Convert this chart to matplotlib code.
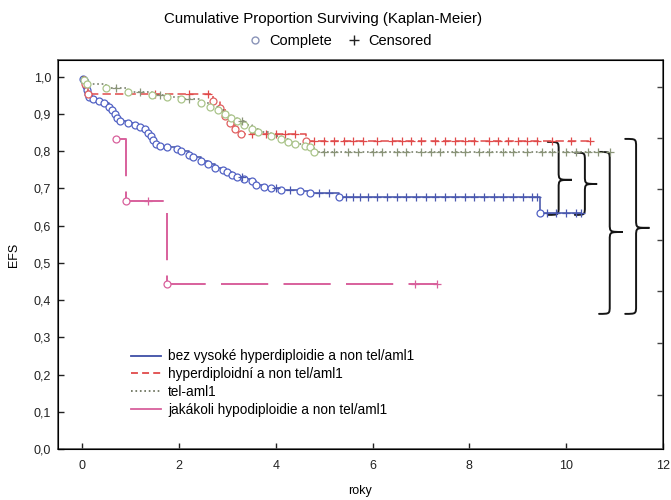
import numpy as np
import matplotlib
matplotlib.use("Agg")
import matplotlib.pyplot as plt
from matplotlib.lines import Line2D
from matplotlib.path import Path
from matplotlib.patches import PathPatch

plt.rcParams['font.family'] = ['Liberation Sans', 'DejaVu Sans']
plt.rcParams['lines.scale_dashes'] = False

# bez vysoke hyperdiploidie a non tel/aml1
blue_t = [0.02, 0.04, 0.06, 0.08, 0.10, 0.12, 0.15, 0.22, 0.35, 0.45, 0.55, 0.62,
          0.68, 0.72, 0.78, 0.95, 1.10, 1.20, 1.30, 1.36, 1.42, 1.47, 1.52, 1.60,
          1.75, 1.95, 2.05, 2.20, 2.30, 2.45, 2.60, 2.75, 2.90, 3.00, 3.10, 3.20,
          3.35, 3.50, 3.60, 3.75, 3.90, 4.10, 4.50, 4.70, 5.30, 9.45]
blue_s = [0.995, 0.99, 0.985, 0.975, 0.965, 0.955, 0.945, 0.94, 0.935, 0.93, 0.92, 0.91,
          0.90, 0.89, 0.88, 0.875, 0.87, 0.865, 0.86, 0.85, 0.84, 0.83, 0.82, 0.815,
          0.81, 0.805, 0.80, 0.79, 0.785, 0.775, 0.765, 0.755, 0.75, 0.745, 0.735, 0.73,
          0.725, 0.72, 0.71, 0.705, 0.70, 0.697, 0.693, 0.688, 0.677, 0.634]
blue_cens = [3.3, 4.0, 4.3, 4.9, 5.1, 5.45, 5.6, 5.75, 5.9, 6.1, 6.3, 6.5, 6.7, 6.9,
             7.1, 7.3, 7.5, 7.7, 7.9, 8.1, 8.3, 8.5, 8.7, 8.9, 9.1, 9.3, 9.4,
             9.6, 9.8, 10.0, 10.2, 10.3]

# hyperdiploidni a non tel/aml1
red_t = [0.05, 0.12, 2.70, 2.85, 2.95, 3.05, 3.15, 3.28, 4.63]
red_s = [0.98, 0.955, 0.935, 0.915, 0.895, 0.875, 0.86, 0.845, 0.828]
red_cens = [1.5, 2.2, 2.6, 3.5, 3.8, 4.0, 4.2, 4.4, 4.8, 5.0, 5.2, 5.4, 5.6, 5.8,
            6.1, 6.4, 6.6, 6.8, 7.0, 7.3, 7.5, 7.7, 7.9, 8.1, 8.4, 8.6, 8.8,
            9.0, 9.2, 9.4, 9.7, 10.1, 10.5]

# tel-aml1
green_t = [0.03, 0.10, 0.50, 0.95, 1.45, 1.75, 2.05, 2.45, 2.65, 2.80, 2.95, 3.07,
           3.20, 3.35, 3.50, 3.63, 3.90, 4.10, 4.25, 4.40, 4.60, 4.70, 4.78]
green_s = [0.99, 0.98, 0.97, 0.96, 0.95, 0.945, 0.94, 0.93, 0.92, 0.91, 0.90, 0.89,
           0.88, 0.87, 0.86, 0.852, 0.84, 0.832, 0.826, 0.82, 0.815, 0.81, 0.798]
green_cens = [0.7, 1.2, 1.6, 2.2, 3.3, 5.0, 5.2, 5.5, 5.7, 6.0, 6.2, 6.5, 6.7, 7.0,
              7.2, 7.4, 7.7, 7.9, 8.2, 8.4, 8.7, 8.9, 9.2, 9.5, 9.7, 10.0, 10.2,
              10.45, 10.65, 10.9]

# jakakoli hypodiploidie a non tel/aml1
pink_t = [0.70, 0.90, 1.76]
pink_s = [0.833, 0.667, 0.444]
pink_cens = [1.37, 6.87, 7.33]

labels = ["bez vysoké hyperdiploidie a non tel/aml1",
          "hyperdiploidní a non tel/aml1",
          "tel-aml1",
          "jakákoli hypodiploidie a non tel/aml1"]

yticks = [0.0, 0.1, 0.2, 0.3, 0.4, 0.5, 0.6, 0.7, 0.8, 0.9, 1.0]
ytick_labels = ["0,0", "0,1", "0,2", "0,3", "0,4", "0,5", "0,6", "0,7", "0,8", "0,9", "1,0"]
xticks = [0, 2, 4, 6, 8, 10, 12]
right_ticks = [0.145, 0.285, 0.425, 0.562, 0.699, 0.836, 0.973]


def km_steps(t, s, cens, from_zero=True):
    t = np.asarray(t)
    s = np.asarray(s)
    if from_zero:
        xs, ys, prev = [0.0], [1.0], 1.0
        tt, ss = t, s
    else:
        xs, ys, prev = [t[0]], [s[0]], s[0]
        tt, ss = t[1:], s[1:]
    for ti, si in zip(tt, ss):
        xs += [ti, ti]
        ys += [prev, si]
        prev = si
    xs.append(max(max(cens), t[-1]))
    ys.append(prev)
    idx = np.searchsorted(t, cens, side='right') - 1
    cy = np.where(idx >= 0, s[np.clip(idx, 0, None)], 1.0)
    return xs, ys, cy


def brace(ax, x0, x1, ytop, ybot, ytip, d=0.022):
    xm = x0 + 0.45 * (x1 - x0)
    verts = [(x0, ytop), (xm, ytop), (xm, ytop), (xm, ytop - d),
             (xm, ytip + d),
             (xm, ytip), (xm, ytip), (x1, ytip),
             (xm, ytip), (xm, ytip), (xm, ytip - d),
             (xm, ybot + d),
             (xm, ybot), (xm, ybot), (x0, ybot)]
    codes = [Path.MOVETO, Path.CURVE4, Path.CURVE4, Path.CURVE4,
             Path.LINETO,
             Path.CURVE4, Path.CURVE4, Path.CURVE4,
             Path.CURVE4, Path.CURVE4, Path.CURVE4,
             Path.LINETO,
             Path.CURVE4, Path.CURVE4, Path.CURVE4]
    ax.add_patch(PathPatch(Path(verts, codes), fill=False, lw=1.4,
                           ec='#151515', capstyle='round', clip_on=False))


fig = plt.figure(figsize=(6.71, 5.0), dpi=100)
ax = fig.add_axes([0.0864, 0.102, 0.9016, 0.778])

series = [
    (blue_t, blue_s, blue_cens, True, '#3e4ea6', '#5262c4', '#4a58b0', '-', None),
    (red_t, red_s, red_cens, True, '#e04a4a', '#e06060', '#e04a4a', '--', (6, 3)),
    (green_t, green_s, green_cens, True, '#6e7560', '#aac48a', '#8a9478', ':', (1.2, 2)),
    (pink_t, pink_s, pink_cens, False, '#d8609c', '#d8609c', '#d8609c', '--', (34, 11)),
]

for t, s, cens, fz, lc, oc, pc, ls, dash in series:
    xs, ys, cy = km_steps(t, s, cens, fz)
    ln, = ax.plot(xs, ys, color=lc, lw=1.1 if ls != '--' or dash[0] < 20 else 1.4, ls=ls)
    if dash is not None:
        ln.set_dashes(dash)
    ax.plot(t, s, 'o', mfc='white', mec=oc, ms=5, mew=0.9)
    ax.plot(cens, cy, '+', color=pc, ms=6, mew=0.9)

brace(ax, 9.62, 10.12, 0.825, 0.629, 0.723)
brace(ax, 10.18, 10.64, 0.796, 0.629, 0.712)
brace(ax, 10.68, 11.17, 0.798, 0.363, 0.583)
brace(ax, 11.22, 11.72, 0.833, 0.363, 0.594)

ax.set_xlim(-0.5, 12)
ax.set_ylim(0, 1.045)
ax.set_xticks(xticks)
ax.set_yticks(yticks)
ax.set_yticklabels(ytick_labels)
ax.tick_params(direction='in', length=4, width=1, labelsize=9, colors='#222222')
ax.tick_params(axis='x', pad=8)
ax.tick_params(axis='y', pad=5)
for sp in ax.spines.values():
    sp.set_color('#555555')
    sp.set_linewidth(1.2)

axr = ax.twinx()
axr.set_ylim(ax.get_ylim())
axr.set_yticks(right_ticks)
axr.set_yticklabels([])
axr.tick_params(direction='in', length=4, width=1, colors='#444444')

ax.set_xlabel("roky", fontsize=9, labelpad=9)
ax.set_ylabel("EFS", fontsize=9, labelpad=10)

leg_handles = [
    Line2D([], [], color='#3e4ea6', lw=1.3),
    Line2D([], [], color='#e04a4a', lw=1.3, ls=(0, (5, 3))),
    Line2D([], [], color='#6e7560', lw=1.3, ls=(0, (1.2, 2))),
    Line2D([], [], color='#d8609c', lw=1.3),
]
ax.legend(leg_handles, labels, loc='upper left', bbox_to_anchor=(0.112, 0.27),
          frameon=False, fontsize=9.8, handlelength=2.2, labelspacing=0.28,
          handletextpad=0.5, borderaxespad=0)

fig.text(0.482, 0.962, "Cumulative Proportion Surviving (Kaplan-Meier)",
         ha='center', va='center', fontsize=10.8)
top_handles = [
    Line2D([], [], marker='o', ls='none', mfc='white', mec='#8a94b8', ms=5),
    Line2D([], [], marker='+', ls='none', color='#222222', ms=7),
]
fig.legend(top_handles, ["Complete", "Censored"], loc='center',
           bbox_to_anchor=(0.505, 0.918), ncol=2, frameon=False, fontsize=10.5,
           handletextpad=0.4, columnspacing=0.9, handlelength=1.2)

fig.savefig("out.png", dpi=100)
